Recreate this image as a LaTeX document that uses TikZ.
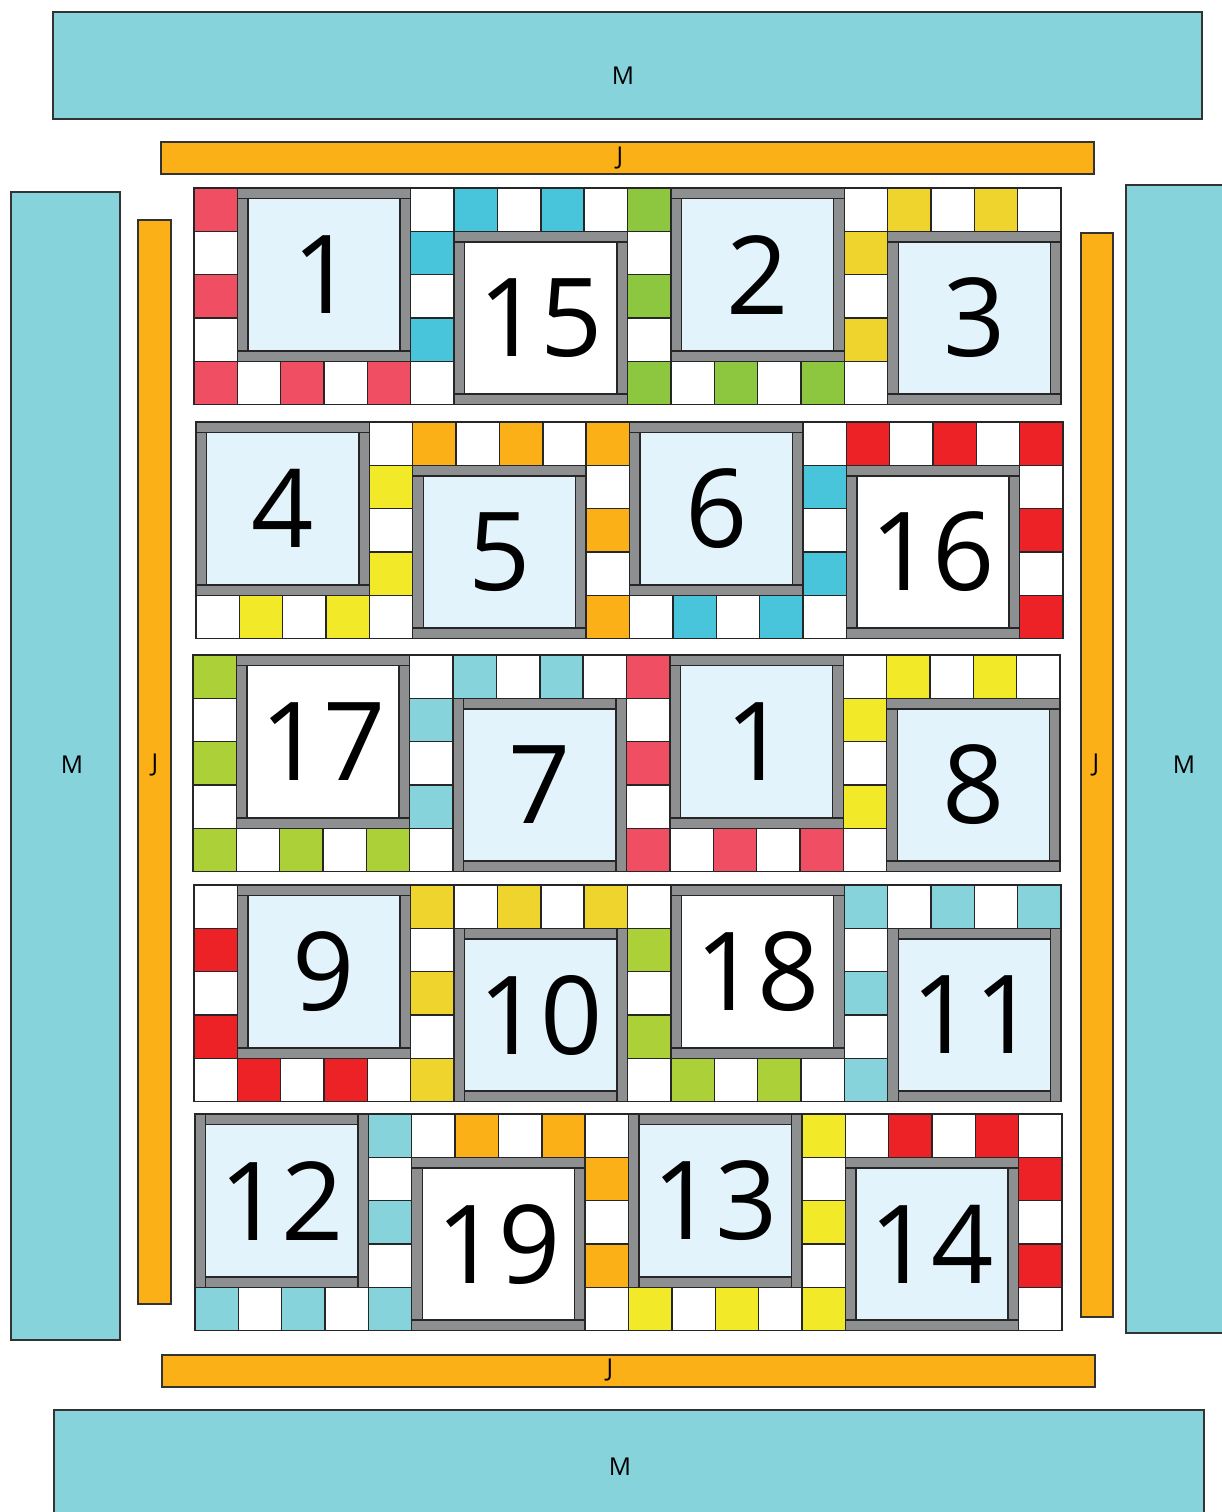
\documentclass[tikz,border=0pt]{standalone}
\usepackage{fontspec}
\setmainfont{Open Sans}

\definecolor{qteal}{HTML}{87D3DC}
\definecolor{qorange}{HTML}{FBB017}
\definecolor{qgray}{HTML}{8E8F91}
\definecolor{qsky}{HTML}{E2F3FB}
\definecolor{qpink}{HTML}{F04E62}
\definecolor{qcyan}{HTML}{48C5DA}
\definecolor{qgreen}{HTML}{8DC63F}
\definecolor{qgold}{HTML}{F0D42E}
\definecolor{qred}{HTML}{EC2227}
\definecolor{qlime}{HTML}{ACD037}
\definecolor{qyellow}{HTML}{F2EA28}
\colorlet{patch1}{white}

\newcommand{\cellw}{43.35}
\newcommand{\barw}{10.6}

\begin{document}
\begin{tikzpicture}[x=0.01cm, y=-0.01cm,
            mband/.style={draw=black!80, line width=0.5pt, fill=qteal},
            jband/.style={draw=black!80, line width=0.5pt, fill=qorange},
            cell/.style={draw=black!85, line width=0.4pt},
            bar/.style={draw=black!85, line width=0.4pt, fill=qgray},
            seam/.style={black!85, line width=0.4pt},
            num/.style={font=\fontsize{31}{31}\selectfont},
            tag/.style={font=\fontsize{7}{7}\selectfont}
        ]
            \useasboundingbox (0,0) rectangle (1222,1512);

            % M borders
            \draw[mband] (53,12) rectangle (1202,119);
            \draw[mband] (11,192) rectangle (120,1340);
            \draw[mband] (1126,185) rectangle (1240,1333);
            \draw[mband] (54,1410) rectangle (1204,1530);
            \node[tag] (mtop) at (623,76) {M};
            \node[tag] (mleft) at (72,765) {M};
            \node[tag] (mright) at (1184,765) {M};
            \node[tag] (mbottom) at (620,1467) {M};

            % J borders
            \draw[jband] (161,142) rectangle (1094,174);
            \draw[jband] (138,220) rectangle (171,1304);
            \draw[jband] (1081,233) rectangle (1113,1317);
            \draw[jband] (162,1355) rectangle (1095,1387);
            \node[tag] (jtop) at (620,158) {J};
            \node[tag] (jleft) at (155,765) {J};
            \node[tag] (jright) at (1096,765) {J};
            \node[tag] (jbottom) at (610,1370) {J};

            % Blocks: x/y/colour/parity/frame col/frame row/centre/bars/number/name
            \foreach \bx/\by/\bc/\bp/\fx/\fy/\ctr/\bars/\num/\nm in {
                194/188/qpink/0/1/0/qsky/0/1/one,
                410.75/188/qcyan/1/1/1/white/0/15/fifteen,
                627.5/188/qgreen/0/1/0/qsky/0/2/two,
                844.25/188/qgold/1/1/1/qsky/0/3/three,
                196/422/qyellow/1/0/0/qsky/0/4/four,
                412.75/422/qorange/0/0/1/qsky/0/5/five,
                629.5/422/qcyan/1/0/0/qsky/0/6/six,
                846.25/422/qred/0/0/1/white/0/16/sixteen,
                193/655/qlime/0/1/0/white/0/17/seventeen,
                409.75/655/qteal/1/1/1/qsky/1/7/seven,
                626.5/655/qpink/0/1/0/qsky/0/1/oneb,
                843.25/655/qyellow/1/1/1/qsky/0/8/eight,
                194/885/qred/1/1/0/qsky/0/9/nine,
                410.75/885/qgold/0/1/1/qsky/1/10/ten,
                627.5/885/qlime/1/1/0/white/0/18/eighteen,
                844.25/885/qteal/0/1/1/qsky/1/11/eleven,
                195/1114/qteal/0/0/0/qsky/1/12/twelve,
                411.75/1114/qorange/1/0/1/white/0/19/nineteen,
                628.5/1114/qyellow/0/0/0/qsky/1/13/thirteen,
                845.25/1114/qred/1/0/1/qsky/0/14/fourteen}{
                \colorlet{patch0}{\bc}
                % checker squares
                \foreach \i in {0,...,4}
                    \foreach \j in {0,...,4}{
                        \pgfmathtruncatemacro{\k}{mod(\i+\j+\bp,2)}
                        \draw[cell, fill=patch\k] ({\bx+\i*\cellw},{\by+\j*\cellw}) rectangle ++(\cellw,\cellw);
                    }
                % framed square
                \pgfmathsetmacro{\ax}{\bx+\fx*\cellw}
                \pgfmathsetmacro{\ay}{\by+\fy*\cellw}
                \pgfmathsetmacro{\bw}{4*\cellw}
                \pgfmathsetmacro{\cw}{4*\cellw-\barw}
                \draw[bar] (\ax,\ay) rectangle ++(\bw,\bw);
                \draw[cell, fill=\ctr] ({\ax+\barw},{\ay+\barw}) rectangle ({\ax+\cw},{\ay+\cw});
                \ifnum\bars=0
                    \draw[seam] (\ax,{\ay+\barw}) -- ++(\barw,0);
                    \draw[seam] ({\ax+\cw},{\ay+\barw}) -- ++(\barw,0);
                    \draw[seam] (\ax,{\ay+\cw}) -- ++(\barw,0);
                    \draw[seam] ({\ax+\cw},{\ay+\cw}) -- ++(\barw,0);
                \else
                    \draw[seam] ({\ax+\barw},\ay) -- ++(0,\barw);
                    \draw[seam] ({\ax+\barw},{\ay+\cw}) -- ++(0,\barw);
                    \draw[seam] ({\ax+\cw},\ay) -- ++(0,\barw);
                    \draw[seam] ({\ax+\cw},{\ay+\cw}) -- ++(0,\barw);
                \fi
                \node[num] (blk\nm) at ({\ax+2*\cellw},{\ay+2*\cellw}) {\num};
            }
        \end{tikzpicture}
\end{document}
